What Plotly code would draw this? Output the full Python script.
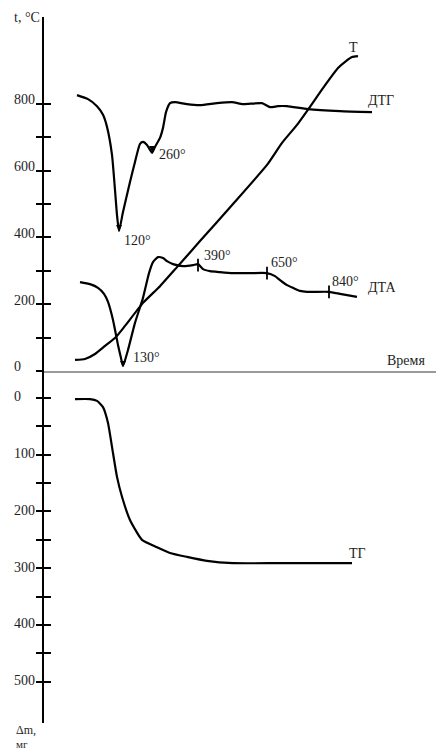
import plotly.graph_objects as go

# ---- data (time in arbitrary units along "Время") ----
# T curve, temperature, °C
t_time = [31, 41, 51, 61, 72, 81, 99, 116, 133, 156, 189, 223, 238, 253, 265, 279, 294, 302, 308, 314]
t_temp = [33, 36, 51, 75, 102, 135, 204, 254, 311, 389, 500, 617, 683, 737, 787, 847, 907, 928, 940, 943]

# ДТГ curve (plotted on the °C scale)
dtg_time = [33, 44, 53, 59, 63, 68, 71, 73, 75, 79, 86, 91, 96, 99, 103, 106, 108, 111, 116, 119,
            122, 126, 131, 143, 156, 173, 188, 199, 218, 226, 234, 243, 264, 296, 328]
dtg_val = [826, 814, 793, 767, 731, 647, 542, 467, 419, 476, 566, 626, 680, 686, 677, 662, 653, 671, 698, 728,
           775, 802, 805, 799, 796, 802, 805, 799, 802, 790, 793, 793, 784, 778, 775]

# ДТА curve
dta_time = [36, 46, 54, 60, 64, 69, 74, 77, 79, 84, 91, 99, 105, 109, 114, 119, 123, 129, 139, 149,
            154, 159, 166, 176, 189, 206, 223, 231, 236, 243, 249, 256, 263, 285, 296, 313]
dta_val = [266, 260, 249, 231, 207, 153, 78, 39, 15, 63, 144, 219, 293, 326, 341, 338, 329, 320, 314, 317,
           320, 305, 299, 296, 293, 293, 293, 284, 272, 257, 249, 240, 237, 237, 231, 222]

# ТГ curve, mass loss, мг
tg_time = [31, 46, 53, 59, 64, 69, 73, 78, 86, 98, 113, 126, 143, 163, 189, 236, 308]
tg_loss = [2, 2, 5, 16, 44, 97, 139, 174, 215, 250, 263, 273, 280, 287, 291, 291, 291]

# marked points
arrow_labels = ["120°", "260°", "130°"]
arrow_time = [75, 108, 79]
arrow_val = [419, 656, 12]
tick_labels = ["390°", "650°", "840°"]
tick_time = [154, 223, 285]
tick_val = [317, 293, 237]

# axis ticks
top_ticks = [0, 100, 200, 300, 400, 500, 600, 700, 800]
top_labels = [0, 200, 400, 600, 800]
bot_ticks = [0, 50, 100, 150, 200, 250, 300, 350, 400, 450, 500]
bot_labels = [0, 100, 200, 300, 400, 500]

FONT = "Liberation Serif"
TXT = "#1e1e1e"
LW = 2.2

fig = go.Figure()
line = dict(color="black", width=LW, shape="spline", smoothing=0.5)
fig.add_trace(go.Scatter(x=t_time, y=t_temp, mode="lines", line=line, xaxis="x", yaxis="y", hoverinfo="skip"))
fig.add_trace(go.Scatter(x=dtg_time, y=dtg_val, mode="lines", line=line, xaxis="x", yaxis="y", hoverinfo="skip"))
fig.add_trace(go.Scatter(x=dta_time, y=dta_val, mode="lines", line=line, xaxis="x", yaxis="y", hoverinfo="skip"))
fig.add_trace(go.Scatter(x=tg_time, y=tg_loss, mode="lines", line=line, xaxis="x", yaxis="y2", hoverinfo="skip"))

fig.add_trace(go.Scatter(x=arrow_time, y=arrow_val, mode="markers", xaxis="x", yaxis="y", hoverinfo="skip",
                         marker=dict(symbol="arrow-down", size=6, color="black")))
fig.add_trace(go.Scatter(x=tick_time, y=tick_val, mode="markers", xaxis="x", yaxis="y", hoverinfo="skip",
                         marker=dict(symbol="line-ns", size=9, line=dict(color="black", width=1.8))))

# empty traces so the overlay tick axes are drawn
fig.add_trace(go.Scatter(x=[None], y=[None], xaxis="x", yaxis="y3", showlegend=False, hoverinfo="skip"))
fig.add_trace(go.Scatter(x=[None], y=[None], xaxis="x", yaxis="y4", showlegend=False, hoverinfo="skip"))

TOP_RANGE = [0, 1060]
BOT_RANGE = [572.7, -47.6]
SPLIT = 0.4986

yax = dict(showline=True, linecolor="black", linewidth=2, ticks="outside", ticklen=6, tickwidth=1.6,
           tickcolor="black", showticklabels=False, showgrid=False, zeroline=False, anchor="x")
yin = dict(showline=False, ticks="inside", ticklen=7, tickwidth=1.6, tickcolor="black",
           showticklabels=False, showgrid=False, zeroline=False, anchor="x")

fig.update_layout(
    width=436, height=751,
    margin=dict(l=44, r=0, t=17, b=28),
    paper_bgcolor="white", plot_bgcolor="white",
    showlegend=False,
    xaxis=dict(domain=[0, 1], range=[0, 392], anchor="y", showline=True, linecolor="#9a9a9a", linewidth=2,
               showticklabels=False, ticks="", showgrid=False, zeroline=False),
    yaxis=dict(domain=[SPLIT, 1], range=TOP_RANGE, tickvals=top_ticks, **yax),
    yaxis3=dict(overlaying="y", range=TOP_RANGE, tickvals=top_ticks, **yin),
    yaxis2=dict(domain=[0, SPLIT], range=BOT_RANGE, tickvals=bot_ticks, **yax),
    yaxis4=dict(overlaying="y2", range=BOT_RANGE, tickvals=bot_ticks, **yin),
)

ann = []
fnt = dict(family=FONT, size=14, color=TXT)
lx = -32 / 392
for v in top_labels:
    ann.append(dict(x=lx, xref="paper", y=v, yref="y", text=str(v), showarrow=False, xanchor="left",
                    yanchor="middle", yshift=4, font=fnt))
for v in bot_labels:
    ann.append(dict(x=lx, xref="paper", y=v, yref="y2", text=str(v), showarrow=False, xanchor="left",
                    yanchor="middle", yshift=1, font=fnt))
ann.append(dict(x=lx, xref="paper", y=(723 - 18) / 706, yref="paper", text="t, °C", showarrow=False,
                xanchor="left", yanchor="middle", font=fnt))
ann.append(dict(x=-29 / 392, xref="paper", y=(723 - 730) / 706, yref="paper", text="Δm,", showarrow=False,
                xanchor="left", yanchor="middle", borderpad=0, font=dict(family=FONT, size=12, color=TXT)))
ann.append(dict(x=-29 / 392, xref="paper", y=(723 - 744) / 706, yref="paper", text="мг", showarrow=False,
                xanchor="left", yanchor="middle", borderpad=0, font=dict(family=FONT, size=11, color=TXT)))
ann.append(dict(x=(385 - 44) / 392, xref="paper", y=0, yref="y", text="Время", showarrow=False,
                xanchor="left", yanchor="bottom", yshift=1, font=fnt))

arrow_shift = [(3, -9), (5, -3), (8, 9)]
for lab, tx, vy, (dx, dy) in zip(arrow_labels, arrow_time, arrow_val, arrow_shift):
    ann.append(dict(x=tx, y=vy, xref="x", yref="y", text=lab, showarrow=False, xanchor="left",
                    yanchor="middle", xshift=dx, yshift=dy, font=fnt))
tick_shift = [(4, 10), (2, 11), (1, 10)]
for lab, tx, vy, (dx, dy) in zip(tick_labels, tick_time, tick_val, tick_shift):
    ann.append(dict(x=tx, y=vy, xref="x", yref="y", text=lab, showarrow=False, xanchor="left",
                    yanchor="middle", xshift=dx, yshift=dy, font=fnt))

# curve names next to curve ends
ann.append(dict(x=t_time[-1], y=t_temp[-1], xref="x", yref="y", text="Т", showarrow=False,
                xanchor="center", yanchor="middle", xshift=-5, yshift=9, font=fnt))
ann.append(dict(x=dtg_time[-1], y=dtg_val[-1], xref="x", yref="y", text="ДТГ", showarrow=False,
                xanchor="left", yanchor="middle", xshift=-6, yshift=12, font=fnt))
ann.append(dict(x=dta_time[-1], y=dta_val[-1], xref="x", yref="y", text="ДТА", showarrow=False,
                xanchor="left", yanchor="middle", xshift=9, yshift=9, font=fnt))
ann.append(dict(x=tg_time[-1], y=tg_loss[-1], xref="x", yref="y2", text="ТГ", showarrow=False,
                xanchor="left", yanchor="middle", xshift=-5, yshift=10, font=fnt))

fig.update_layout(annotations=ann)
fig.write_html("out.html", config={"displayModeBar": False},
               post_script="document.body.style.margin='0';")
